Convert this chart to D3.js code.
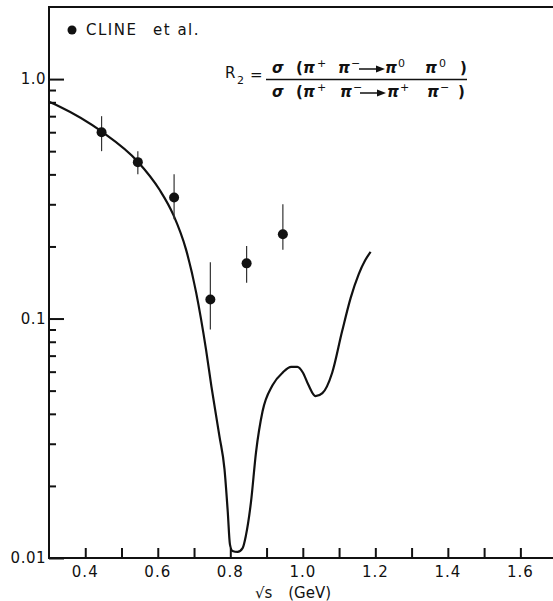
<!DOCTYPE html>
<html>
<head>
<meta charset="utf-8">
<script src="https://cdn.jsdelivr.net/npm/d3@7"></script>
<style>
  html, body { margin: 0; padding: 0; background: #fff; }
  svg { display: block; }
  text { font-family: "DejaVu Sans", "Liberation Sans", sans-serif; fill: #111; }
</style>
</head>
<body>
<svg id="chart" width="553" height="601"></svg>
<script>
// sqrt(s) in GeV for the CLINE et al. measurements
const pointX = [0.445, 0.545, 0.645, 0.745, 0.845, 0.945];
const pointY = [0.60, 0.45, 0.32, 0.12, 0.17, 0.225];
const errLow = [0.50, 0.40, 0.26, 0.090, 0.141, 0.194];
const errHigh = [0.70, 0.50, 0.40, 0.172, 0.201, 0.30];

// theoretical R2 curve
const curveX = [0.300, 0.330, 0.446, 0.545, 0.605, 0.643, 0.678, 0.706, 0.733, 0.748,
                0.770, 0.784, 0.793, 0.799, 0.806, 0.820, 0.834, 0.843, 0.857, 0.871,
                0.889, 0.916, 0.945, 0.968, 0.985, 1.000, 1.015, 1.035, 1.054, 1.081,
                1.108, 1.132, 1.154, 1.172, 1.187];
const curveY = [0.804, 0.767, 0.603, 0.452, 0.345, 0.271, 0.194, 0.128, 0.0743, 0.0520,
                0.0323, 0.0235, 0.0156, 0.0114, 0.0107, 0.0106, 0.0110, 0.0124, 0.0171, 0.0277,
                0.0410, 0.0525, 0.0596, 0.0628, 0.0628, 0.0595, 0.0530, 0.0474, 0.0488, 0.0594,
                0.088, 0.122, 0.153, 0.175, 0.190];

// axes
const xTicks = [0.4, 0.5, 0.6, 0.7, 0.8, 0.9, 1.0, 1.1, 1.2, 1.3, 1.4, 1.5, 1.6];
const xLabelValues = [0.4, 0.6, 0.8, 1.0, 1.2, 1.4, 1.6];
const xLabelText = ["0.4", "0.6", "0.8", "1.0", "1.2", "1.4", "1.6"];
const yMajor = [0.01, 0.1, 1.0];
const yMajorText = ["0.01", "0.1", "1.0"];
const yMinor = [0.02, 0.03, 0.04, 0.05, 0.06, 0.07, 0.08, 0.09,
                0.2, 0.3, 0.4, 0.5, 0.6, 0.7, 0.8, 0.9];

const svg = d3.select("#chart");
const x = d3.scaleLinear().domain([0.3, 1.69]).range([49, 553]);
const y = d3.scaleLog().domain([0.01, 2.0]).range([558, 7]);

const ink = "#111";

// frame: left axis, bottom axis, top rule
const frame = svg.append("g").attr("stroke", ink).attr("stroke-width", 2).attr("fill", "none");
frame.append("line").attr("x1", x(0.3)).attr("x2", x(0.3)).attr("y1", y.range()[1]).attr("y2", y.range()[0]);
frame.append("line").attr("x1", x(0.3) - 1).attr("x2", x.range()[1]).attr("y1", y(0.01)).attr("y2", y(0.01));
frame.append("line").attr("x1", x(0.3) - 1).attr("x2", x.range()[1]).attr("y1", y.range()[1]).attr("y2", y.range()[1]);

// x ticks pointing into the plot
const xAxis = d3.axisBottom(x).tickValues(xTicks).tickSize(-10).tickSizeOuter(0).tickFormat("");
const gx = svg.append("g").attr("transform", `translate(0,${y(0.01)})`).call(xAxis);
gx.select(".domain").remove();
gx.selectAll(".tick line").attr("stroke", ink).attr("stroke-width", 2);

svg.append("g").selectAll("text").data(xLabelValues).join("text")
  .attr("x", d => x(d))
  .attr("y", 577)
  .attr("text-anchor", "middle")
  .attr("font-size", 15)
  .attr("letter-spacing", 1)
  .text((d, i) => xLabelText[i]);

// x-axis title
const xt = svg.append("text").attr("x", 293).attr("y", 598).attr("text-anchor", "middle").attr("font-size", 15);
xt.append("tspan").text("\u221As");
xt.append("tspan").attr("dx", 16).text("(GeV)");

// y ticks
const yMajorAxis = d3.axisLeft(y).tickValues(yMajor).tickSize(-15).tickSizeOuter(0).tickPadding(3).tickFormat("");
const gyM = svg.append("g").attr("transform", `translate(${x(0.3)},0)`).call(yMajorAxis);
gyM.select(".domain").remove();
gyM.selectAll(".tick line").attr("stroke", ink).attr("stroke-width", 2);

const yMinorAxis = d3.axisLeft(y).tickValues(yMinor).tickSize(-7).tickSizeOuter(0).tickFormat("");
const gym = svg.append("g").attr("transform", `translate(${x(0.3)},0)`).call(yMinorAxis);
gym.select(".domain").remove();
gym.selectAll(".tick line").attr("stroke", ink).attr("stroke-width", 2);

svg.append("g").selectAll("text").data(yMajor).join("text")
  .attr("x", x(0.3) - 3)
  .attr("y", d => y(d) + 5)
  .attr("text-anchor", "end")
  .attr("font-size", 15)
  .attr("letter-spacing", 0.5)
  .text((d, i) => yMajorText[i]);

// theory curve
const line = d3.line()
  .x((d, i) => x(curveX[i]))
  .y((d, i) => y(curveY[i]))
  .curve(d3.curveMonotoneX);
svg.append("path")
  .datum(curveX)
  .attr("d", line)
  .attr("fill", "none")
  .attr("stroke", ink)
  .attr("stroke-width", 2.2);

// data points with error bars
const pts = svg.append("g");
pts.selectAll("line").data(pointX).join("line")
  .attr("x1", d => x(d)).attr("x2", d => x(d))
  .attr("y1", (d, i) => y(errHigh[i]))
  .attr("y2", (d, i) => y(errLow[i]))
  .attr("stroke", "#333")
  .attr("stroke-width", 1.2);
pts.selectAll("circle").data(pointX).join("circle")
  .attr("cx", d => x(d))
  .attr("cy", (d, i) => y(pointY[i]))
  .attr("r", 5)
  .attr("fill", ink);

// legend
svg.append("circle").attr("cx", 72).attr("cy", 30).attr("r", 4.5).attr("fill", ink);
const lg = svg.append("text").attr("x", 86).attr("y", 35).attr("font-size", 15).attr("letter-spacing", 1.5);
lg.append("tspan").text("CLINE");
lg.append("tspan").attr("x", 153).text("et al.");

// ratio definition
const f = svg.append("g").attr("font-size", 15);
f.append("text").attr("x", 225).attr("y", 78).text("R");
f.append("text").attr("x", 237).attr("y", 84).attr("font-size", 11).text("2");
f.append("text").attr("x", 250).attr("y", 80).text("=");
f.append("line").attr("x1", 266).attr("x2", 467).attr("y1", 79.5).attr("y2", 79.5)
  .attr("stroke", ink).attr("stroke-width", 1.5);

function ratioRow(yb, parts) {
  parts.forEach(p => {
    if (p.arrow) {
      f.append("line").attr("x1", p.x).attr("x2", p.x + 20).attr("y1", yb - 4).attr("y2", yb - 4)
        .attr("stroke", ink).attr("stroke-width", 1.5);
      f.append("path")
        .attr("d", `M${p.x + 17},${yb - 7.5} L${p.x + 26},${yb - 4} L${p.x + 17},${yb - 0.5} Z`)
        .attr("fill", ink);
    } else {
      f.append("text").attr("x", p.x).attr("y", yb + (p.sup ? -6 : 0))
        .attr("font-size", p.sup ? 11 : 15)
        .attr("font-style", p.it ? "italic" : null)
        .attr("font-weight", p.sup ? null : "bold")
        .text(p.t);
    }
  });
}
ratioRow(73, [
  {x: 272, t: "\u03C3", it: true}, {x: 296, t: "("}, {x: 303, t: "\u03C0", it: true}, {x: 317, t: "+", sup: true},
  {x: 338, t: "\u03C0", it: true}, {x: 351, t: "\u2212", sup: true}, {arrow: true, x: 359},
  {x: 385, t: "\u03C0", it: true}, {x: 398, t: "0", sup: true},
  {x: 425, t: "\u03C0", it: true}, {x: 439, t: "0", sup: true}, {x: 460, t: ")"}
]);
ratioRow(97, [
  {x: 272, t: "\u03C3", it: true}, {x: 296, t: "("}, {x: 303, t: "\u03C0", it: true}, {x: 317, t: "+", sup: true},
  {x: 340, t: "\u03C0", it: true}, {x: 353, t: "\u2212", sup: true}, {arrow: true, x: 360},
  {x: 387, t: "\u03C0", it: true}, {x: 400, t: "+", sup: true},
  {x: 427, t: "\u03C0", it: true}, {x: 440, t: "\u2212", sup: true}, {x: 458, t: ")"}
]);
</script>
</body>
</html>
